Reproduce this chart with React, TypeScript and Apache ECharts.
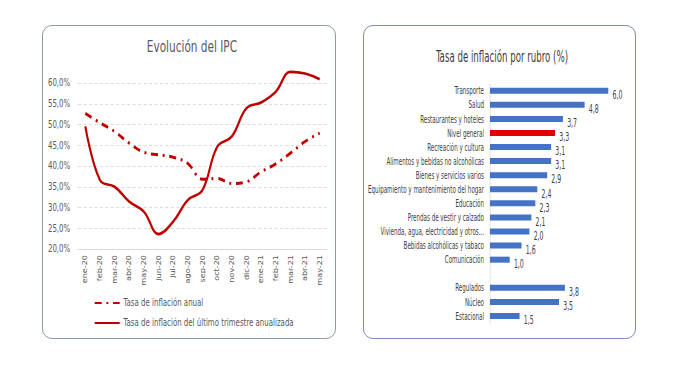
import React, { useEffect, useRef } from "react";
import * as echarts from "echarts";

const months = ["ene-20","feb-20","mar-20","abr-20","may-20","jun-20","jul-20","ago-20","sep-20","oct-20","nov-20","dic-20","ene-21","feb-21","mar-21","abr-21","may-21"];
const annualRate = [52.7,50.4,48.3,45.5,43.3,42.7,42.1,40.6,36.8,37.0,35.8,36.2,38.6,40.5,43.1,45.9,47.9];
const quarterRate = [49.6,36.6,35.0,31.4,29.0,23.6,26.6,31.8,34.2,44.6,47.1,53.9,55.3,57.9,62.7,62.3,60.9];
const yTicks = [20,25,30,35,40,45,50,55,60];

const rubros = ["Transporte","Salud","Restaurantes y hoteles","Nivel general","Recreación y cultura","Alimentos y bebidas no alcohólicas","Bienes y servicios varios","Equipamiento y mantenimiento del hogar","Educación","Prendas de vestir y calzado","Vivienda, agua, electricidad y otros...","Bebidas alcohólicas y tabaco","Comunicación","","Regulados","Núcleo","Estacional"];
const rubroValues: (number | null)[] = [6.0,4.8,3.7,3.3,3.1,3.1,2.9,2.4,2.3,2.1,2.0,1.6,1.0,null,3.8,3.5,1.5];
const highlighted = "Nivel general";

const FONT = "'DejaVu Sans Condensed', 'Liberation Sans Narrow', sans-serif";
const GRAY = "#595959";
const RED = "#c00000";

// horizontal squeeze of each panel in the reference picture
const SL = 0.78;
const SR = 0.6;
const LW = Math.round(350 / SL);
const RW = Math.round(329 / SR);

function leftOption(): any {
  return {
    animation: false,
    textStyle: { fontFamily: FONT },
    title: {
      text: "Evolución del IPC", left: 188 / SL, top: 34, textAlign: "center",
      textStyle: { fontFamily: FONT, fontSize: 15, fontWeight: "normal", color: GRAY },
    },
    legend: {
      orient: "vertical", left: 90 / SL, top: 293, itemWidth: 25 / SL, itemHeight: 10, itemGap: 10,
      itemStyle: { opacity: 0 },
      textStyle: { fontFamily: FONT, fontSize: 10, color: GRAY },
      data: ["Tasa de inflación anual", "Tasa de inflación del último trimestre anualizada"],
    },
    grid: { left: 78 / SL, width: (327 - 78) / SL, top: 83, bottom: 120 },
    xAxis: {
      type: "category", data: months, boundaryGap: true,
      axisLine: { lineStyle: { color: "#d9d9d9" } }, axisTick: { show: false },
      axisLabel: { rotate: 90, fontFamily: FONT, fontSize: 9, color: GRAY, margin: 6, interval: 0 },
    },
    yAxis: {
      type: "value", min: yTicks[0], max: yTicks[yTicks.length - 1], interval: 5,
      axisLine: { show: false }, axisTick: { show: false },
      splitLine: { lineStyle: { color: "#d9d9d9", type: [4, 3] } },
      axisLabel: { fontFamily: FONT, fontSize: 10, color: GRAY, margin: 10, formatter: (v: number) => v.toFixed(1).replace(".", ",") + "%" },
    },
    series: [
      {
        name: "Tasa de inflación anual", type: "line", data: annualRate, smooth: 0.4, symbol: "none", clip: false,
        lineStyle: { color: RED, width: 3, type: [9, 6, 2.5, 6] }, itemStyle: { color: RED },
      },
      {
        name: "Tasa de inflación del último trimestre anualizada", type: "line", data: quarterRate, smooth: 0.4, symbol: "none", clip: false,
        lineStyle: { color: RED, width: 2.7 }, itemStyle: { color: RED },
      },
    ],
  };
}

function rightOption(): any {
  const X = (x: number) => (x - 350) / SR;
  return {
    animation: false,
    textStyle: { fontFamily: FONT },
    title: {
      text: "Tasa de inflación por rubro (%)", left: X(499), top: 44, textAlign: "center",
      textStyle: { fontFamily: FONT, fontSize: 16, fontWeight: "normal", color: "#404040" },
    },
    grid: { left: X(490), width: (628 - 490) / SR, top: 83.7, bottom: 46 },
    xAxis: { type: "value", min: 0, max: 7, show: false },
    yAxis: {
      type: "category", data: rubros, inverse: true,
      axisLine: { lineStyle: { color: "#d9d9d9" } }, axisTick: { show: false },
      axisLabel: { fontFamily: FONT, fontSize: 10.3, color: "#404040", margin: 10, interval: 0 },
    },
    series: [
      {
        type: "bar", barWidth: 6,
        data: rubroValues.map((v, i) => ({
          value: v === null ? "-" : v,
          itemStyle: { color: rubros[i] === highlighted ? "#e00000" : "#4472c4" },
        })),
        label: {
          show: true, position: "right", distance: 7, offset: [0, 4],
          fontFamily: FONT, fontSize: 11.5, color: "#404040",
          formatter: (p: any) => (typeof p.value === "number" ? p.value.toFixed(1).replace(".", ",") : ""),
        },
      },
    ],
  };
}

function Panel({ left, width, scale, option }: { left: number; width: number; scale: number; option: () => any }) {
  const ref = useRef<HTMLDivElement>(null);
  useEffect(() => {
    const chart = echarts.init(ref.current!, null, { renderer: "svg" });
    chart.setOption(option());
    return () => chart.dispose();
  }, []);
  return (
    <div
      ref={ref}
      style={{
        position: "absolute", left, top: 0, width, height: 369,
        transform: `scaleX(${scale})`, transformOrigin: "0 0",
      }}
    />
  );
}

export default function App() {
  useEffect(() => {
    document.body.style.margin = "0";
  }, []);
  const box = (left: number, width: number, color: string): React.CSSProperties => ({
    position: "absolute", left, top: 25, width, height: 314, boxSizing: "border-box",
    border: `1.2px solid ${color}`, borderRadius: 10,
  });
  return (
    <div style={{ position: "absolute", left: 0, top: 0, width: 679, height: 369, background: "#fff", overflow: "hidden" }}>
      <div style={box(42, 294, "#8d9aa6")} />
      <div style={box(363, 273, "#7d8cc0")} />
      <Panel left={0} width={LW} scale={SL} option={leftOption} />
      <Panel left={350} width={RW} scale={SR} option={rightOption} />
    </div>
  );
}
